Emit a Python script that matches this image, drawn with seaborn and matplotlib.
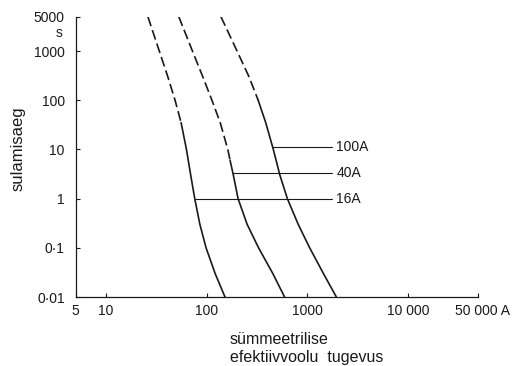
import numpy as np
import pandas as pd
import matplotlib
matplotlib.use("Agg")
import matplotlib.pyplot as plt
import matplotlib.ticker as mticker
from matplotlib.transforms import ScaledTranslation
import seaborn as sns

# Fuse melting curves: current (A) vs melting time (s)
# dashed part (long times) and solid part (short times) share one point
fuse_16_dash_I = [26.05, 33.8, 41.1, 48.5, 55.7]
fuse_16_dash_t = [5000, 1000, 300, 100, 35]
fuse_16_solid_I = [55.7, 62.95, 69.4, 76.1, 85.6, 98.6, 121.4, 152.1]
fuse_16_solid_t = [35, 10, 3, 1, 0.3, 0.1, 0.03, 0.01]

fuse_40_dash_I = [52.8, 72.2, 91.5, 112.8, 136.4, 162.2, 170.9]
fuse_40_dash_t = [5000, 1000, 300, 100, 35, 10, 6]
fuse_40_solid_I = [170.9, 184.2, 205.1, 252.4, 328.0, 454.4, 594.8]
fuse_40_solid_t = [6, 3, 1, 0.3, 0.1, 0.03, 0.01]

fuse_100_dash_I = [138.5, 200.4, 263.5, 325.0]
fuse_100_dash_t = [5000, 1000, 300, 100]
fuse_100_solid_I = [325.0, 386.5, 459.7, 534.2, 633.9, 812.5, 1056, 1447, 1946]
fuse_100_solid_t = [100, 35, 10, 3, 1, 0.3, 0.1, 0.03, 0.01]

# leader lines to the curve labels
label_names = ["100A", "40A", "16A"]
label_times = [11.4, 3.37, 1.0]
label_start_I = [455, 182, 76.1]
label_end_I = 1770
label_text_I = 1936

x_ticks = [5, 10, 100, 1000, 10000, 50000]
x_ticklabels = ["5", "10", "100", "1000", "10 000", "50 000 A"]
y_ticks = [0.01, 0.1, 1, 10, 100, 1000, 5000]
y_ticklabels = ["0·01", "0·1", "1", "10", "100", "1000", "5000"]

sns.set_style("ticks")
plt.rcParams['font.family'] = ['Liberation Sans', 'DejaVu Sans']

segments = [
    ("16A", "dash", fuse_16_dash_I, fuse_16_dash_t),
    ("16A", "solid", fuse_16_solid_I, fuse_16_solid_t),
    ("40A", "dash", fuse_40_dash_I, fuse_40_dash_t),
    ("40A", "solid", fuse_40_solid_I, fuse_40_solid_t),
    ("100A", "dash", fuse_100_dash_I, fuse_100_dash_t),
    ("100A", "solid", fuse_100_solid_I, fuse_100_solid_t),
]
rows = []
for fuse, part, cur, tm in segments:
    for c, t in zip(cur, tm):
        rows.append({"fuse": fuse, "part": part, "current": c, "time": t})
df = pd.DataFrame(rows)

fig = plt.figure(figsize=(5.12, 3.66), dpi=100)
ax = fig.add_axes([0.148, 0.1885, 0.786, 0.766])
ax.set_xscale("log")
ax.set_yscale("log")

line_color = "#1a1a1a"
for (fuse, part), seg in df.groupby(["fuse", "part"], sort=False):
    ls = (0, (6, 2.5)) if part == "dash" else "-"
    sns.lineplot(data=seg, x="current", y="time", estimator=None, sort=False,
                 color=line_color, linewidth=1.2, linestyle=ls, ax=ax)

for name, t, start in zip(label_names, label_times, label_start_I):
    ax.plot([start, label_end_I], [t, t], color=line_color, linewidth=0.8)
    ax.text(label_text_I, t, name, ha="left", va="center", fontsize=10,
            color=line_color)

ax.set_xlim(5, 50000)
ax.set_ylim(0.01, 5000)
ax.set_xticks(x_ticks)
ax.set_xticklabels(x_ticklabels)
ax.set_yticks(y_ticks)
ax.set_yticklabels(y_ticklabels)
ax.xaxis.set_minor_locator(mticker.NullLocator())
ax.yaxis.set_minor_locator(mticker.NullLocator())
ax.tick_params(axis="both", direction="in", length=3, width=0.8,
               labelsize=10, colors=line_color)
ax.tick_params(axis="x", pad=5)
ax.tick_params(axis="y", pad=8)
sns.despine(ax=ax)
for sp in ["left", "bottom"]:
    ax.spines[sp].set_linewidth(0.9)
    ax.spines[sp].set_color(line_color)
ax.set_xlabel("")
ax.set_ylabel("")

# nudge the last x label so "50 000" sits on its tick
last = ax.get_xticklabels()[-1]
last.set_transform(last.get_transform() + ScaledTranslation(0.04, 0, fig.dpi_scale_trans))

fig.text(63 / 512, 1 - 33 / 366, "s", ha="right", va="center", fontsize=10,
         color=line_color)
fig.text(18 / 512, 1 - 149 / 366, "sulamisaeg", rotation=90, ha="center",
         va="center", fontsize=12, color=line_color)
fig.text(230 / 512, 1 - 344 / 366, "sümmeetrilise", ha="left", va="baseline",
         fontsize=11.5, color=line_color)
fig.text(230 / 512, 1 - 362 / 366, "efektiivvoolu  tugevus", ha="left",
         va="baseline", fontsize=11.5, color=line_color)

fig.savefig("out.png", dpi=100, facecolor="white")
